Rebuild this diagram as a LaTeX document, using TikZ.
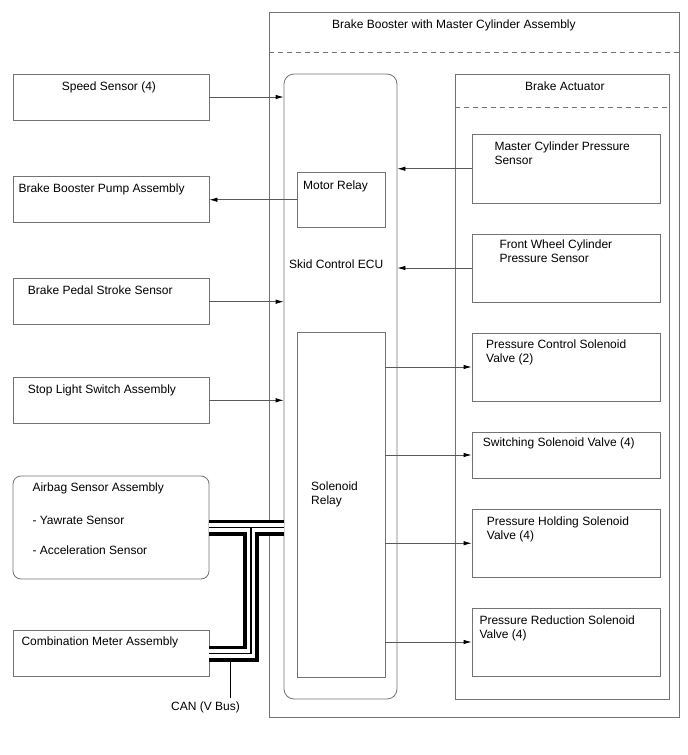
\documentclass[tikz,border=0pt]{standalone}
\usepackage{fontspec}
\setmainfont{Liberation Sans}
\usetikzlibrary{arrows.meta}

\tikzset{
  box/.style={draw=black!55, line width=0.8pt, rectangle, inner sep=0pt},
  txt/.style={anchor=base west, inner sep=0pt, align=left, font=\fontsize{12}{14}\selectfont},
  arr/.style={draw=black!65, line width=0.8pt, -{Latex[length=8pt,width=4.5pt,color=black]}},
  divider/.style={draw=black!55, line width=0.8pt, dash pattern=on 5pt off 4pt},
}

\begin{document}
\begin{tikzpicture}[x=1pt, y=-1pt]
  \useasboundingbox (0,0) rectangle (688,755);

  \node[box, minimum width=410pt, minimum height=705pt] (outer) at (474, 364.5) {};
  \node[box, rounded corners=10pt, minimum width=113pt, minimum height=625pt] (ecu) at (340.5, 386.5) {};
  \node[box, minimum width=214pt, minimum height=625pt] (act) at (562, 386.5) {};
  \node[box, minimum width=88pt, minimum height=54.5pt] (mr) at (341, 199.75) {};
  \node[box, minimum width=88pt, minimum height=345pt] (sr) at (341, 504.5) {};

  \node[box, minimum width=188pt, minimum height=68.5pt] (mcp) at (566, 168.75) {};
  \node[box, minimum width=188pt, minimum height=68pt] (fwc) at (566, 268) {};
  \node[box, minimum width=188pt, minimum height=68pt] (pcsv) at (566, 367) {};
  \node[box, minimum width=188pt, minimum height=46pt] (ssv) at (566, 455) {};
  \node[box, minimum width=188pt, minimum height=68.5pt] (phsv) at (566, 543.25) {};
  \node[box, minimum width=188pt, minimum height=68pt] (prsv) at (566, 642) {};

  \node[box, minimum width=196pt, minimum height=46pt] (speed) at (111, 97) {};
  \node[box, minimum width=196pt, minimum height=46pt] (pump) at (111, 199.75) {};
  \node[box, minimum width=196pt, minimum height=46pt] (pedal) at (111, 301.7) {};
  \node[box, minimum width=196pt, minimum height=46pt] (stop) at (111, 400.3) {};
  \node[box, rounded corners=8pt, minimum width=196pt, minimum height=103pt] (ab) at (111, 527.5) {};
  \node[box, minimum width=196pt, minimum height=46pt] (cm) at (111, 653.7) {};

  \draw[divider] ([yshift=-41pt]outer.north west) -- ([yshift=-41pt]outer.north east);
  \draw[divider] ([yshift=-34pt]act.north west) -- ([yshift=-34pt]act.north east);

  \node[txt] (outertxt) at (332, 28) {Brake Booster with Master Cylinder Assembly};
  \node[txt] (acttxt) at (525, 90) {Brake Actuator};
  \node[txt] (ecutxt) at (289, 268.3) {Skid Control ECU};
  \node[txt] (mrtxt) at (303, 189.3) {Motor Relay};
  \node[txt] (srtxt) at (311, 504) {Solenoid\\Relay};
  \node[txt] (mcptxt) at (494.3, 164) {Master Cylinder Pressure\\Sensor};
  \node[txt] (fwctxt) at (499.3, 262.3) {Front Wheel Cylinder\\Pressure Sensor};
  \node[txt] (pcsvtxt) at (486, 362.3) {Pressure Control Solenoid\\Valve (2)};
  \node[txt] (ssvtxt) at (482.7, 446.7) {Switching Solenoid Valve (4)};
  \node[txt] (phsvtxt) at (486.7, 539) {Pressure Holding Solenoid\\Valve (4)};
  \node[txt] (prsvtxt) at (479.3, 638.3) {Pressure Reduction Solenoid\\Valve (4)};

  \node[txt] (speedtxt) at (61.7, 90) {Speed Sensor (4)};
  \node[txt] (pumptxt) at (18.3, 192) {Brake Booster Pump Assembly};
  \node[txt] (pedaltxt) at (27.7, 294.3) {Brake Pedal Stroke Sensor};
  \node[txt] (stoptxt) at (27.7, 393.3) {Stop Light Switch Assembly};
  \node[txt] (abtxt) at (32.3, 491.7) {Airbag Sensor Assembly};
  \node[txt] (yawtxt) at (32.3, 524) {- Yawrate Sensor};
  \node[txt] (acctxt) at (32.3, 554) {- Acceleration Sensor};
  \node[txt] (cmtxt) at (21.3, 645) {Combination Meter Assembly};
  \node[txt] (cantxt) at (171, 710) {CAN (V Bus)};

  \draw[arr] (speed.east) -- (speed.east -| ecu.west);
  \draw[arr] (mr.west) -- (mr.west -| pump.east);
  \draw[arr] (pedal.east) -- (pedal.east -| ecu.west);
  \draw[arr] (stop.east) -- (stop.east -| ecu.west);
  \draw[arr] (mcp.west) -- (mcp.west -| ecu.east);
  \draw[arr] (fwc.west) -- (fwc.west -| ecu.east);
  \draw[arr] (sr.east |- pcsv.west) -- (pcsv.west);
  \draw[arr] (sr.east |- ssv.west) -- (ssv.west);
  \draw[arr] (sr.east |- phsv.west) -- (phsv.west);
  \draw[arr] (sr.east |- prsv.west) -- (prsv.west);

  \coordinate (canj) at (251, 527.5);
  \foreach \w/\c in {16/black, 8.5/white, 1.2/black}
    \draw[line width=\w pt, \c, line join=miter] (ab.east) -- (ab.east -| ecu.west)
      (canj) -- (canj |- cm.east) -- (cm.east);
  \coordinate (canl) at (230, 661.7);
  \draw[line width=0.9pt] (canl) -- ([yshift=3pt]cantxt.north -| canl);
\end{tikzpicture}
\end{document}
